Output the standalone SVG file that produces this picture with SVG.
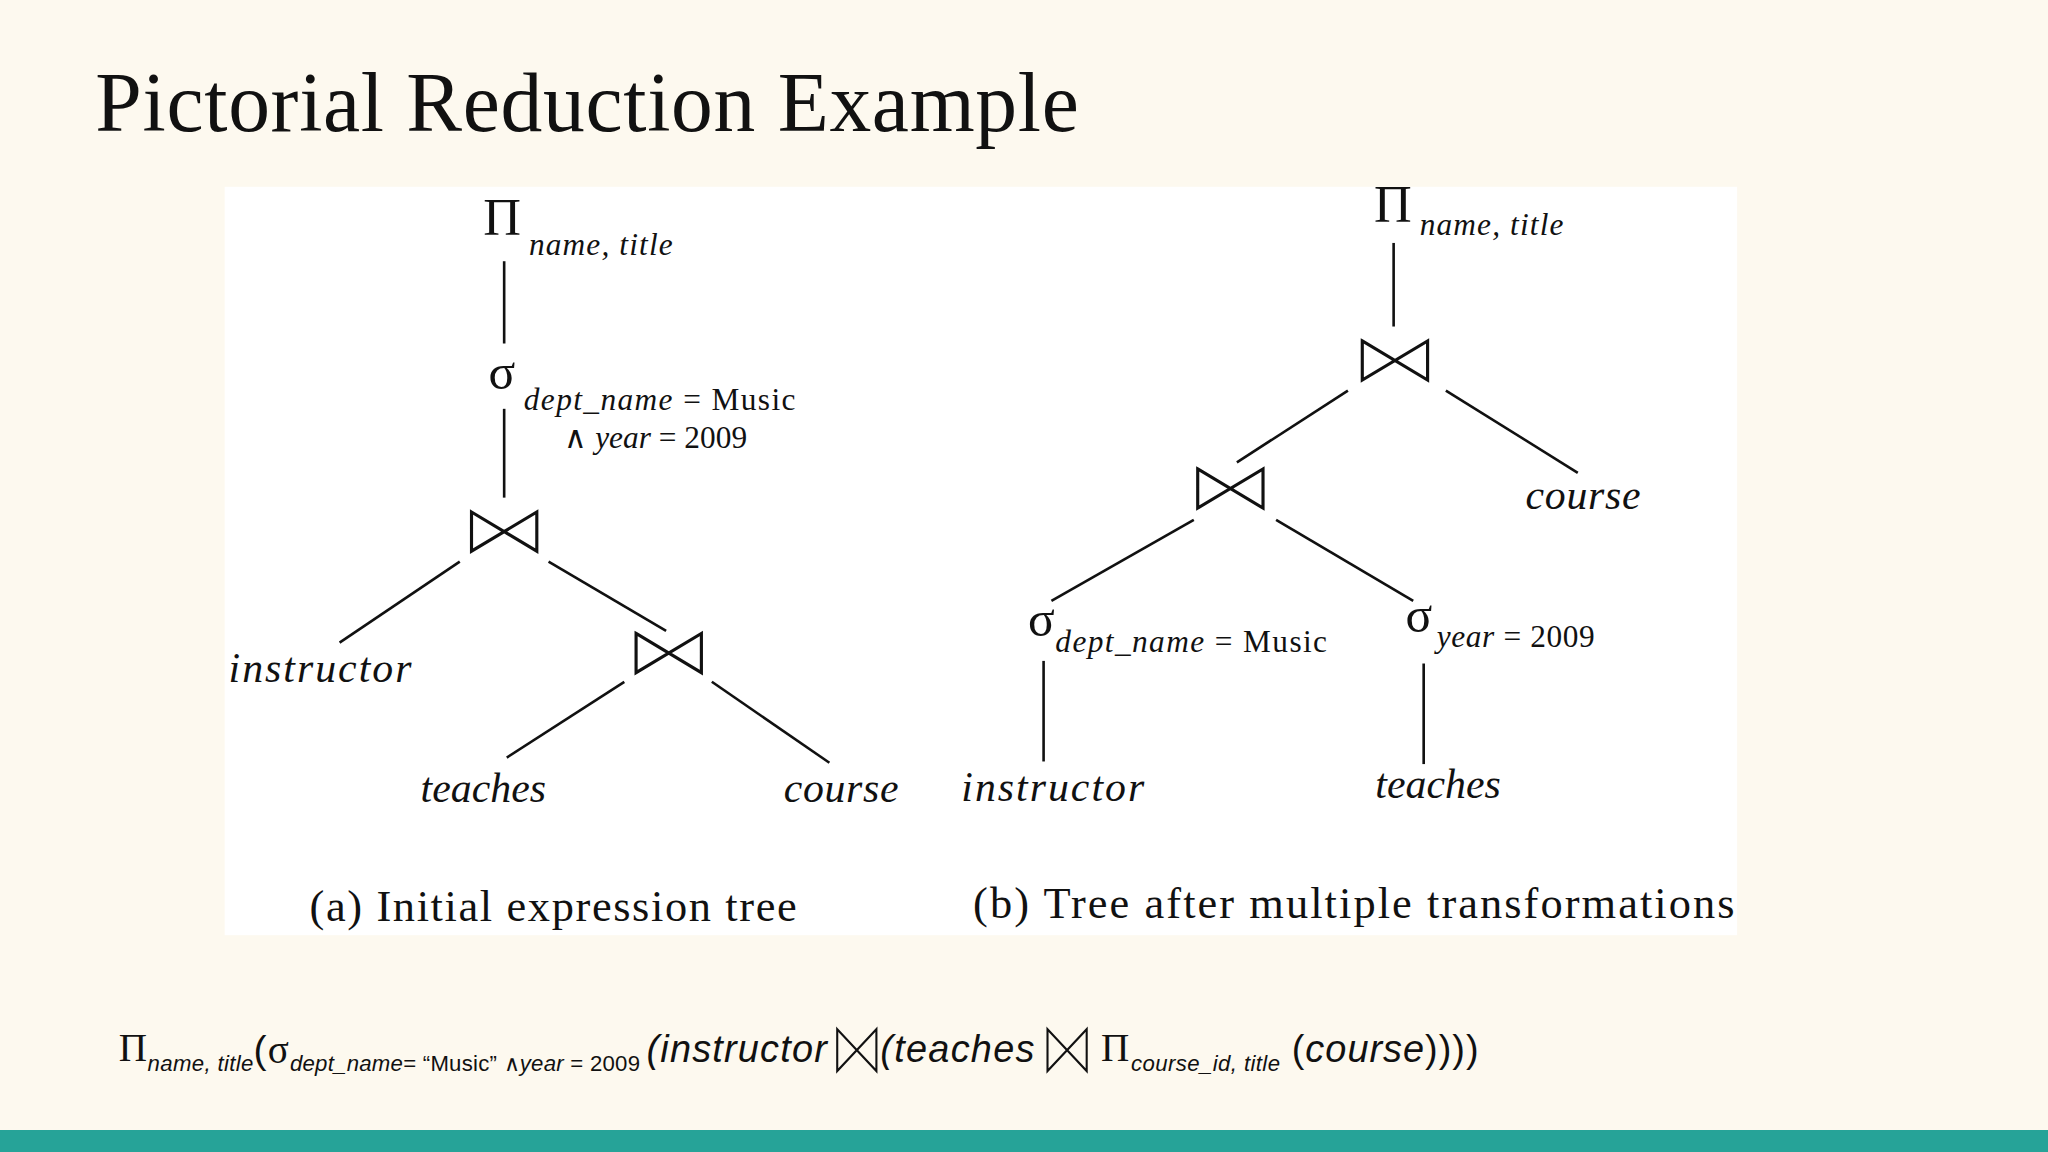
<svg xmlns="http://www.w3.org/2000/svg" width="2048" height="1152" viewBox="0 0 2048 1152">
<style>
.s{font-family:"Liberation Serif",serif;fill:#111}
.i{font-style:italic}
.f{font-family:"Liberation Sans",Arial,sans-serif;fill:#111}
.ln{stroke:#111;stroke-width:2;fill:none}
</style>
<defs>
<path id="bt" d="M-25,-15 L25,15 L25,-15 L-25,15 Z" stroke="#111" stroke-width="2.4" fill="none"/>
<path id="bts" d="M-15,-16 L15,16 L15,-16 L-15,16 Z" stroke="#111" stroke-width="1.6" fill="none"/>
</defs>
<rect width="2048" height="1152" fill="#fdf9ef"/>
<rect y="1130" width="2048" height="22" fill="#26a398"/>
<g transform="scale(1.30612)">
<text class="s" x="73" y="100" font-size="64" textLength="753">Pictorial Reduction Example</text>
<rect x="172" y="143" width="1158" height="573" fill="#fff"/>
<g id="connectors">
<line class="ln" x1="386" y1="200" x2="386" y2="263"/>
<line class="ln" x1="386" y1="313" x2="386" y2="381"/>
<line class="ln" x1="352" y1="430" x2="260" y2="492"/>
<line class="ln" x1="420" y1="430" x2="510" y2="483"/>
<line class="ln" x1="478" y1="522" x2="388" y2="580"/>
<line class="ln" x1="545" y1="522" x2="635" y2="584"/>
<line class="ln" x1="1067" y1="186" x2="1067" y2="250"/>
<line class="ln" x1="1032" y1="299" x2="947" y2="354"/>
<line class="ln" x1="1107" y1="299" x2="1208" y2="362"/>
<line class="ln" x1="914" y1="398" x2="805" y2="460"/>
<line class="ln" x1="977" y1="398" x2="1082" y2="460"/>
<line class="ln" x1="799" y1="506" x2="799" y2="583"/>
<line class="ln" x1="1090" y1="508" x2="1090" y2="585"/>
</g>
<g id="a-proj"><text class="s" x="370" y="180" font-size="40">Π</text><text class="s i" x="405" y="195" font-size="24" textLength="110">name, title</text></g>
<g id="a-sel"><text class="s" x="374" y="298" font-size="38">σ</text><text class="s" x="401" y="314" font-size="24" textLength="208"><tspan class="i">dept_name</tspan> = Music</text><text class="s" x="432" y="343" font-size="24" textLength="140">∧ <tspan class="i">year</tspan> = 2009</text></g>
<g id="a-join1"><use href="#bt" x="386" y="407"/></g>
<g id="a-instructor"><text class="s i" x="175" y="522" font-size="32" textLength="140">instructor</text></g>
<g id="a-join2"><use href="#bt" x="512" y="500"/></g>
<g id="a-teaches"><text class="s i" x="322" y="614" font-size="32" textLength="96">teaches</text></g>
<g id="a-course"><text class="s i" x="600" y="614" font-size="32" textLength="88">course</text></g>
<g id="cap-a"><text class="s" x="237" y="705" font-size="34" textLength="373">(a) Initial expression tree</text></g>
<g id="b-proj"><text class="s" x="1052" y="170" font-size="40">Π</text><text class="s i" x="1087" y="180" font-size="24" textLength="110">name, title</text></g>
<g id="b-join1"><use href="#bt" x="1068" y="276"/></g>
<g id="b-course"><text class="s i" x="1168" y="390" font-size="32" textLength="88">course</text></g>
<g id="b-join2"><use href="#bt" x="942" y="374"/></g>
<g id="b-sel1"><text class="s" x="787" y="487" font-size="38">σ</text><text class="s" x="808" y="499" font-size="24" textLength="208"><tspan class="i">dept_name</tspan> = Music</text></g>
<g id="b-sel2"><text class="s" x="1076" y="484" font-size="38">σ</text><text class="s" x="1100" y="495" font-size="24" textLength="121"><tspan class="i">year</tspan> = 2009</text></g>
<g id="b-instructor"><text class="s i" x="736" y="613" font-size="32" textLength="140">instructor</text></g>
<g id="b-teaches"><text class="s i" x="1053" y="611" font-size="32" textLength="96">teaches</text></g>
<g id="cap-b"><text class="s" x="745" y="703" font-size="34" textLength="583">(b) Tree after multiple transformations</text></g>
<g id="formula">
<text class="s" x="91" y="812" font-size="30">Π</text>
<text class="f i" x="113" y="820" font-size="17" textLength="81">name, title</text>
<text class="f" x="194" y="814" font-size="30">(</text>
<text class="s" x="205" y="814" font-size="30">σ</text>
<text class="f" x="222" y="820" font-size="17" textLength="268"><tspan class="i">dept_name</tspan>= “Music” ∧<tspan class="i">year</tspan> = 2009</text>
<text class="f i" x="495" y="813" font-size="29" textLength="138">(instructor</text>
<use href="#bts" x="656" y="804"/>
<text class="f i" x="674" y="813" font-size="29" textLength="118">(teaches</text>
<use href="#bts" x="817" y="804"/>
<text class="s" x="843" y="812" font-size="30">Π</text>
<text class="f i" x="866" y="820" font-size="17" textLength="114">course_id, title</text>
<text class="f" x="989" y="813" font-size="29" textLength="143">(<tspan class="i">course</tspan>))))</text>
</g>
</g>
</svg>
